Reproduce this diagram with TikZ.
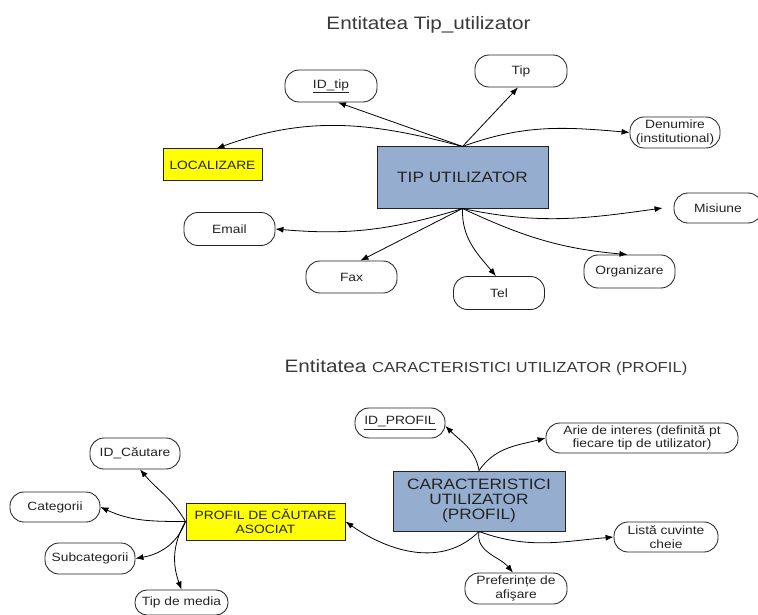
\documentclass[tikz,border=0pt]{standalone}
\usepackage{fontspec}
\setmainfont{Liberation Sans}[FakeStretch=1.15]
\usetikzlibrary{arrows.meta}
\definecolor{boxblue}{RGB}{149,174,208}
\definecolor{boxyellow}{RGB}{255,255,0}
\definecolor{ink}{RGB}{35,35,35}
\begin{document}
\begin{tikzpicture}[x=1pt,y=1pt,
  attr/.style={draw=ink, line width=0.85pt, rounded corners=14pt, minimum height=31pt,
    inner xsep=3pt, inner ysep=1pt, align=center, text=ink,
    font=\fontsize{12}{13.5}\selectfont},
  ybox/.style={draw=ink, line width=1pt, fill=boxyellow, inner sep=1pt, align=center,
    text=ink, font=\fontsize{12}{13.5}\selectfont},
  bbox/.style={draw=ink, line width=1pt, fill=boxblue, inner sep=1pt, align=center,
    text=ink, font=\fontsize{15}{15}\selectfont},
  heading/.style={anchor=base, text=ink!90, inner sep=0pt},
  link/.style={-{Latex[length=8pt,width=6pt]}, line width=0.8pt, draw=black}]
\useasboundingbox (0,0) rectangle (758,-615);

% ---------- Entity: Tip_utilizator ----------
\node[heading] (title1) at (428.5,-29.5) {\fontsize{18}{20}\selectfont Entitatea Tip\_utilizator};

\node[bbox, minimum width=171pt, minimum height=61pt] (tipu) at (462.5,-177.5) {TIP UTILIZATOR};
\node[ybox, minimum width=99pt, minimum height=32pt] (localizare) at (212.5,-165) {LOCALIZARE};

\node[attr, minimum width=92pt, minimum height=32pt] (idtip) at (331,-86) {\underline{ID\_tip}};
\node[attr, minimum width=92pt, minimum height=32pt] (tip) at (521,-71) {Tip};
\node[attr, minimum width=90pt] (denumire) at (675,-132.5) {Denumire\\(institutional)};
\node[attr, minimum width=91pt, minimum height=33pt] (email) at (229.5,-229) {Email};
\node[attr, minimum width=91pt, minimum height=32pt] (fax) at (351.5,-277) {Fax};
\node[attr, minimum width=91pt, minimum height=33pt] (tel) at (499,-293) {Tel};
\node[attr, minimum width=91pt, minimum height=33pt] (org) at (629.5,-271.5) {Organizare};
\node[attr, minimum width=88pt, minimum height=30pt] (misiune) at (718,-208) {Misiune};

\draw[link] (tipu.north) -- ([xshift=7pt]idtip.south);
\draw[link] (tipu.north) -- ([xshift=-3pt]tip.south);
\draw[link] (tipu.north) to[out=165,in=20] ([xshift=4pt]localizare.north);
\draw[link] (tipu.north) to[out=20,in=175] (denumire.west);
\draw[link] (tipu.south) to[out=197,in=-5] (email.east);
\draw[link] (tipu.south) -- ([xshift=9pt]fax.north);
\draw[link] (tipu.south) to[out=-92,in=130] ([xshift=-3pt]tel.north);
\draw[link] (tipu.south) to[out=-25,in=175] ([xshift=-2pt]org.north);
\draw[link] (tipu.south) to[out=-12,in=188] ([xshift=-11pt]misiune.west);

% ---------- Entity: CARACTERISTICI UTILIZATOR (PROFIL) ----------
\node[heading] (title2) at (486,-372) {\fontsize{18}{20}\selectfont Entitatea \fontsize{14.5}{16}\selectfont CARACTERISTICI UTILIZATOR (PROFIL)};

\node[bbox, minimum width=172pt, minimum height=60pt] (car) at (479,-501) {CARACTERISTICI\\UTILIZATOR\\(PROFIL)};
\node[ybox, minimum width=159pt, minimum height=37pt] (profil) at (265.5,-521.5) {PROFIL DE CĂUTARE\\ASOCIAT};

\node[attr, minimum width=90pt, minimum height=30pt] (idprofil) at (400,-423) {\underline{ID\_PROFIL}};
\node[attr, minimum width=192pt, minimum height=30pt] (arie) at (642,-438) {Arie de interes (definită pt\\fiecare tip de utilizator)};
\node[attr, minimum width=104pt, minimum height=30pt] (lista) at (666,-537) {Listă cuvinte\\cheie};
\node[attr, minimum width=102pt] (pref) at (516,-588.5) {Preferințe de\\afişare};

\node[attr, minimum width=90pt] (idcaut) at (135,-453.5) {ID\_Căutare};
\node[attr, minimum width=90pt, minimum height=30pt] (categ) at (55,-507) {Categorii};
\node[attr, minimum width=90pt] (subcat) at (90,-558.5) {Subcategorii};
\node[attr, minimum width=93pt, minimum height=25pt, rounded corners=12pt] (tipmedia) at (181.5,-602.5) {Tip de media};

\draw[link] (car.north) to[out=100,in=-45] ([yshift=-3pt]idprofil.east);
\draw[link] (car.north) to[out=55,in=195] (arie.west);
\draw[link] (car.south) to[out=-135,in=-35] (profil.east);
\draw[link] (car.south) to[out=-20,in=185] (lista.west);
\draw[link] (car.south) to[out=-100,in=130] ([xshift=-3pt]pref.north);

\draw[link] (profil.west) to[out=120,in=-50] ([xshift=5pt]idcaut.south);
\draw[link] (profil.west) to[out=180,in=-25] (categ.east);
\draw[link] (profil.west) to[out=-110,in=10] (subcat.east);
\draw[link] (profil.west) to[out=-120,in=110] (tipmedia.north);
\end{tikzpicture}
\end{document}
